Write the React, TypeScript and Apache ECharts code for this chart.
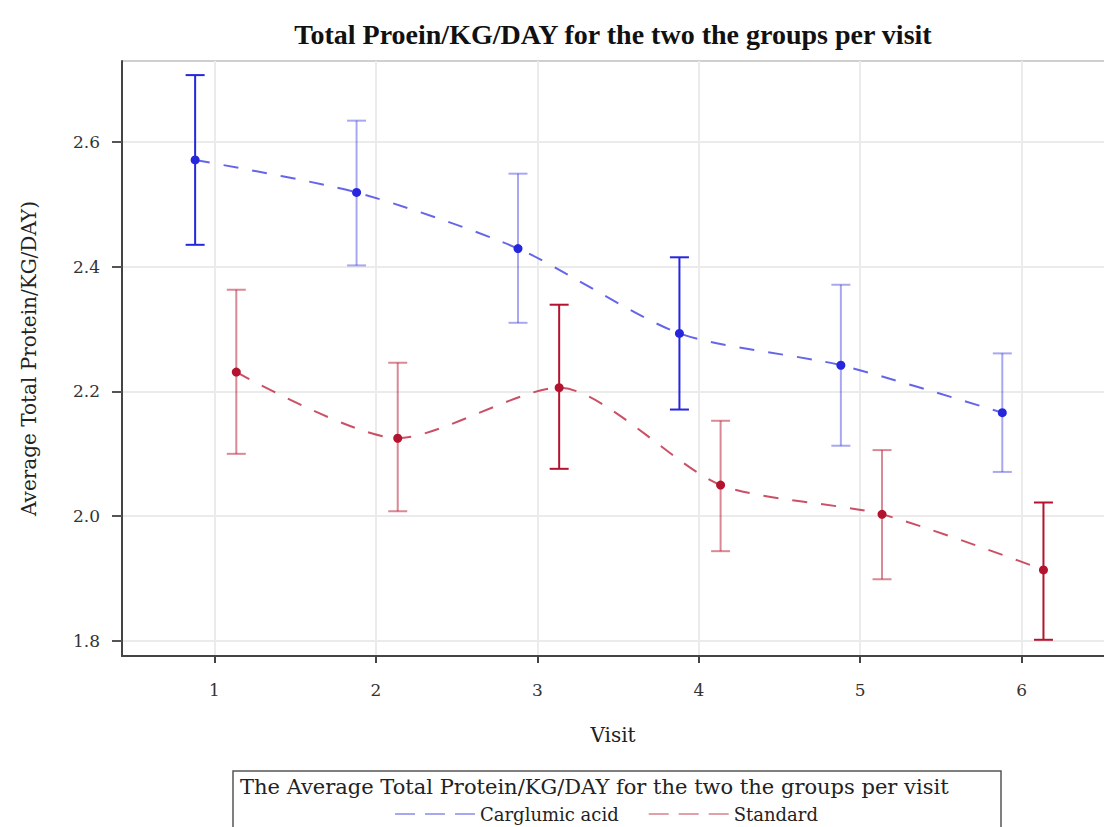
import React, { useEffect, useRef } from "react";
import * as echarts from "echarts";

const visits = [1, 2, 3, 4, 5, 6];
const xTicks = [1, 2, 3, 4, 5, 6];
const yTicks = [1.8, 2.0, 2.2, 2.4, 2.6];

const carglumicMean = [2.571, 2.519, 2.429, 2.293, 2.242, 2.166];
const carglumicUpper = [2.707, 2.634, 2.549, 2.415, 2.371, 2.261];
const carglumicLower = [2.435, 2.402, 2.31, 2.171, 2.113, 2.071];
const carglumicStrong = [1, 0, 0, 1, 0, 0];

const standardMean = [2.231, 2.125, 2.206, 2.05, 2.003, 1.914];
const standardUpper = [2.363, 2.246, 2.339, 2.153, 2.106, 2.022];
const standardLower = [2.1, 2.008, 2.076, 1.944, 1.899, 1.802];
const standardStrong = [0, 0, 1, 0, 0, 1];

const BLUE = "#2626dc";
const RED = "#b3132e";
const SERIF = "'Liberation Serif', 'DejaVu Serif', serif";
const WIDE = "'DejaVu Serif', 'Liberation Serif', serif";

export default function App() {
  const ref = useRef<HTMLDivElement>(null);
  useEffect(() => {
    if (!ref.current) return;
    const chart = echarts.init(ref.current, null, { renderer: "svg" });
    const bOff = -0.12;
    const rOff = 0.135;
    const blueLine = visits.map((v, i) => [v + bOff, carglumicMean[i]]);
    const redLine = visits.map((v, i) => [v + rOff, standardMean[i]]);
    const blueErr = visits.map((v, i) => [v + bOff, carglumicLower[i], carglumicUpper[i], carglumicStrong[i]]);
    const redErr = visits.map((v, i) => [v + rOff, standardLower[i], standardUpper[i], standardStrong[i]]);

    const errSeries = (name: string, data: number[][], color: string, weak: number) => ({
      type: "custom",
      name,
      data,
      z: 3,
      renderItem: (params: any, api: any) => {
        const x = api.value(0);
        const lo = api.coord([x, api.value(1)]);
        const hi = api.coord([x, api.value(2)]);
        const op = api.value(3) ? 1 : weak;
        const style = { stroke: color, lineWidth: 2, opacity: op };
        const hw = 9.5;
        return {
          type: "group",
          children: [
            { type: "line", shape: { x1: lo[0], y1: lo[1], x2: hi[0], y2: hi[1] }, style },
            { type: "line", shape: { x1: lo[0] - hw, y1: lo[1], x2: lo[0] + hw, y2: lo[1] }, style },
            { type: "line", shape: { x1: hi[0] - hw, y1: hi[1], x2: hi[0] + hw, y2: hi[1] }, style },
          ],
        };
      },
    });

    chart.setOption({
      animation: false,
      title: {
        text: "Total Proein/KG/DAY for the two the groups per visit",
        left: 608,
        textAlign: "center",
        top: 15,
        textStyle: { fontFamily: SERIF, fontWeight: "bold", fontSize: 28, color: "#111" },
      },
      grid: { left: 122, top: 61, right: 0, bottom: 171 },
      xAxis: {
        type: "value",
        min: 0.427,
        max: 6.51,
        name: "Visit",
        nameLocation: "middle",
        nameGap: 69,
        nameTextStyle: { fontFamily: WIDE, fontSize: 20, color: "#222" },
        axisLine: { show: true, lineStyle: { color: "#444", width: 2 } },
        axisTick: { show: true, length: 7, customValues: xTicks, lineStyle: { color: "#444", width: 2 } },
        axisLabel: { customValues: xTicks, fontFamily: WIDE, fontSize: 17, color: "#333", margin: 25 },
        splitLine: { show: true, lineStyle: { color: "#ebebeb", width: 2 } },
      },
      yAxis: {
        type: "value",
        min: 1.776,
        max: 2.7296,
        name: "Average Total Protein/KG/DAY)",
        nameLocation: "middle",
        nameGap: 83,
        nameTextStyle: { fontFamily: WIDE, fontSize: 20, color: "#222" },
        axisLine: { show: true, lineStyle: { color: "#444", width: 2 } },
        axisTick: { show: true, length: 10, customValues: yTicks, lineStyle: { color: "#555", width: 2 } },
        axisLabel: {
          customValues: yTicks,
          formatter: (v: number) => v.toFixed(1),
          fontFamily: WIDE,
          fontSize: 17,
          color: "#333",
          margin: 22,
        },
        splitLine: { show: true, lineStyle: { color: "#ebebeb", width: 2 } },
      },
      legend: {
        data: ["Carglumic acid", "Standard"],
        left: 390,
        top: 800,
        itemWidth: 80,
        itemHeight: 3,
        itemGap: 30,
        icon: "path://M0,0h20v2h-20z M30,0h20v2h-20z M60,0h20v2h-20z",
        itemStyle: { opacity: 0.4 },
        textStyle: { fontFamily: WIDE, fontSize: 18, color: "#222" },
      },
      graphic: [
        {
          type: "rect",
          shape: { x: 233, y: 771, width: 768, height: 80 },
          style: { fill: "none", stroke: "#555", lineWidth: 1.5 },
        },
        {
          type: "text",
          x: 240,
          y: 776,
          style: {
            text: "The Average Total Protein/KG/DAY for the two the groups per visit",
            fontFamily: WIDE,
            fontSize: 21,
            fill: "#222",
          },
        },
        {
          type: "line",
          shape: { x1: 122, y1: 61, x2: 1104, y2: 61 },
          style: { stroke: "#cfcfcf", lineWidth: 2 },
        },
      ],
      series: [
        errSeries("errC", blueErr, BLUE, 0.4),
        errSeries("errS", redErr, RED, 0.5),
        {
          type: "line",
          name: "Carglumic acid",
          data: blueLine,
          smooth: 0.25,
          z: 4,
          symbol: "circle",
          symbolSize: 9,
          itemStyle: { color: BLUE },
          lineStyle: { color: "#4a4ae6", width: 2, type: [15, 14], opacity: 0.85 },
        },
        {
          type: "line",
          name: "Standard",
          data: redLine,
          smooth: 0.25,
          z: 4,
          symbol: "circle",
          symbolSize: 9,
          itemStyle: { color: RED },
          lineStyle: { color: "#c2314a", width: 2, type: [15, 14], opacity: 0.85 },
        },
      ],
    });
    return () => chart.dispose();
  }, []);
  return (
    <div
      ref={ref}
      style={{ position: "fixed", left: 0, top: 0, width: 1104, height: 827, background: "#fff" }}
    />
  );
}
